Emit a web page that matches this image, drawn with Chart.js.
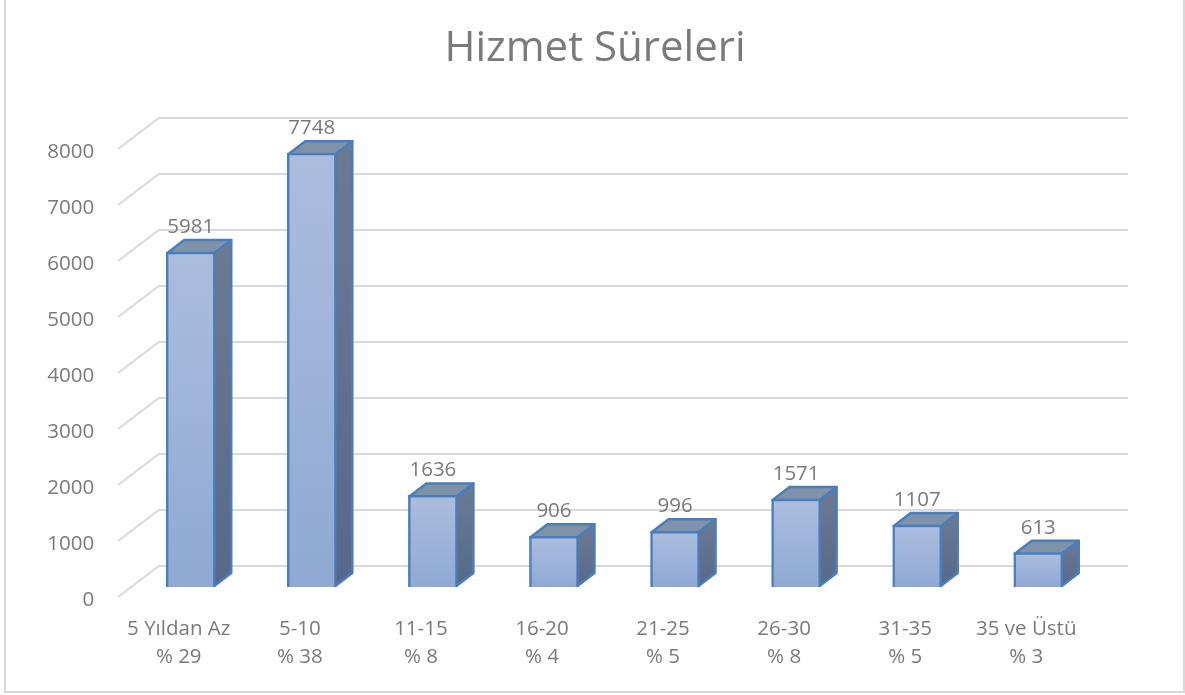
<!DOCTYPE html>
<html>
<head>
<meta charset="utf-8">
<title>Hizmet Süreleri</title>
<script src="https://cdn.jsdelivr.net/npm/chart.js@4"></script>
<style>
    html, body { margin: 0; padding: 0; background: #fff; }
    #wrap { position: relative; width: 1185px; height: 695px; }
</style>
</head>
<body>
<div id="wrap"><canvas id="hizmetChart" width="1185" height="695"></canvas></div>
<script>
const categories = [
    ["5 Yıldan Az", "% 29"],
    ["5-10", "% 38"],
    ["11-15", "% 8"],
    ["16-20", "% 4"],
    ["21-25", "% 5"],
    ["26-30", "% 8"],
    ["31-35", "% 5"],
    ["35 ve Üstü", "% 3"]
];
const personel = [5981, 7748, 1636, 906, 996, 1571, 1107, 613];
const yTicks = [0, 1000, 2000, 3000, 4000, 5000, 6000, 7000, 8000];

const fontName = "'Open Sans', sans-serif";
const textColor = "#7a7a7a";
const blue = "#4a7ebb";

// fake 3D look: depth of the floor/walls and of the bars
const wallDepth = { x: 41, y: -31 };
const barDepth = { x: 17, y: -13 };
const wallLeft = 118;
const wallRight = 1128;

function face(ctx, points, fill) {
    ctx.beginPath();
    points.forEach((p, i) => i ? ctx.lineTo(p[0], p[1]) : ctx.moveTo(p[0], p[1]));
    ctx.closePath();
    ctx.fillStyle = fill;
    ctx.fill();
    ctx.stroke();
}

const frame3d = {
    id: "frame3d",
    beforeDraw(chart) {
        const ctx = chart.ctx;
        ctx.save();
        ctx.strokeStyle = "#d9d9d9";
        ctx.lineWidth = 2;
        ctx.beginPath();
        ctx.moveTo(5, 0);
        ctx.lineTo(5, 692);
        ctx.lineTo(1184, 692);
        ctx.lineTo(1184, 0);
        ctx.stroke();
        ctx.restore();
    },
    beforeDatasetsDraw(chart) {
        const ctx = chart.ctx;
        const y = chart.scales.y;
        ctx.save();
        ctx.strokeStyle = "#d9d9d9";
        ctx.lineWidth = 2;
        yTicks.forEach(v => {
            const py = y.getPixelForValue(v);
            ctx.beginPath();
            ctx.moveTo(wallLeft, py);
            ctx.lineTo(wallLeft + wallDepth.x, py + wallDepth.y);
            ctx.lineTo(wallRight, py + wallDepth.y);
            ctx.stroke();
        });

        ctx.strokeStyle = blue;
        ctx.lineWidth = 2.5;
        ctx.lineJoin = "round";
        chart.getDatasetMeta(0).data.forEach(bar => {
            const right = bar.x + bar.width / 2 - 1;
            const left = bar.x - bar.width / 2 + 1;
            const top = bar.y + 1;
            const base = bar.base - 1;
            const side = ctx.createLinearGradient(0, top + barDepth.y, 0, base);
            side.addColorStop(0, "#6c7b93");
            side.addColorStop(1, "#57688a");
            face(ctx, [[right, top], [right + barDepth.x, top + barDepth.y],
                [right + barDepth.x, base + barDepth.y], [right, base]], side);
            face(ctx, [[left, top], [left + barDepth.x, top + barDepth.y],
                [right + barDepth.x, top + barDepth.y], [right, top]], "#8091aa");
        });
        ctx.restore();
    },
    afterDatasetsDraw(chart) {
        const ctx = chart.ctx;
        ctx.save();
        ctx.font = "20.5px " + fontName;
        ctx.fillStyle = textColor;
        ctx.textAlign = "center";
        ctx.textBaseline = "middle";
        chart.getDatasetMeta(0).data.forEach((bar, i) => {
            ctx.fillText(personel[i], bar.x, bar.y - 25);
        });
        ctx.restore();
    }
};

new Chart(document.getElementById("hizmetChart").getContext("2d"), {
    type: "bar",
    data: {
        labels: categories,
        datasets: [{
            label: "Hizmet Süreleri",
            data: personel,
            yAxisID: "yBar",
            barThickness: 49,
            borderWidth: 2.5,
            borderColor: blue,
            backgroundColor(context) {
                const yBar = context.chart.scales.yBar;
                if (!yBar || !context.parsed) return "#9db2d8";
                const top = yBar.getPixelForValue(context.parsed.y);
                const base = yBar.getPixelForValue(0);
                // scales have no size yet on the first pass
                if (!isFinite(top) || !isFinite(base)) return "#9db2d8";
                const g = context.chart.ctx.createLinearGradient(0, top, 0, base);
                g.addColorStop(0, "#abbddd");
                g.addColorStop(1, "#8fa9d4");
                return g;
            }
        }]
    },
    plugins: [frame3d],
    options: {
        responsive: false,
        animation: false,
        layout: { padding: { left: 5 } },
        plugins: {
            legend: { display: false },
            tooltip: { enabled: false },
            title: {
                display: true,
                text: "Hizmet Süreleri",
                color: textColor,
                font: { family: fontName, size: 42, weight: "normal", lineHeight: 1.2 },
                padding: { top: 24, bottom: 74.6 }
            }
        },
        scales: {
            x: {
                grid: { display: false },
                border: { display: false },
                ticks: {
                    color: textColor,
                    font: { family: fontName, size: 20.5, lineHeight: 1.38 },
                    padding: 10,
                    labelOffset: -12,
                    maxRotation: 0,
                    autoSkip: false
                },
                afterFit(scale) { scale.height = 98; }
            },
            y: {
                position: "left",
                min: 0,
                max: 8000,
                grid: { display: false },
                border: { display: false },
                afterBuildTicks(scale) { scale.ticks = yTicks.map(v => ({ value: v })); },
                ticks: {
                    color: textColor,
                    font: { family: fontName, size: 20.5 },
                    padding: 28,
                    labelOffset: 3,
                    callback: v => String(v)
                },
                afterFit(scale) { scale.width = 125.2; }
            },
            // hidden scale for the bars, same px per unit but sits 10px above the floor front
            yBar: {
                position: "right",
                min: -178,
                max: 7822,
                grid: { display: false },
                border: { display: false },
                ticks: { display: false },
                afterFit(scale) { scale.width = 86.2; }
            }
        }
    }
});
</script>
</body>
</html>
